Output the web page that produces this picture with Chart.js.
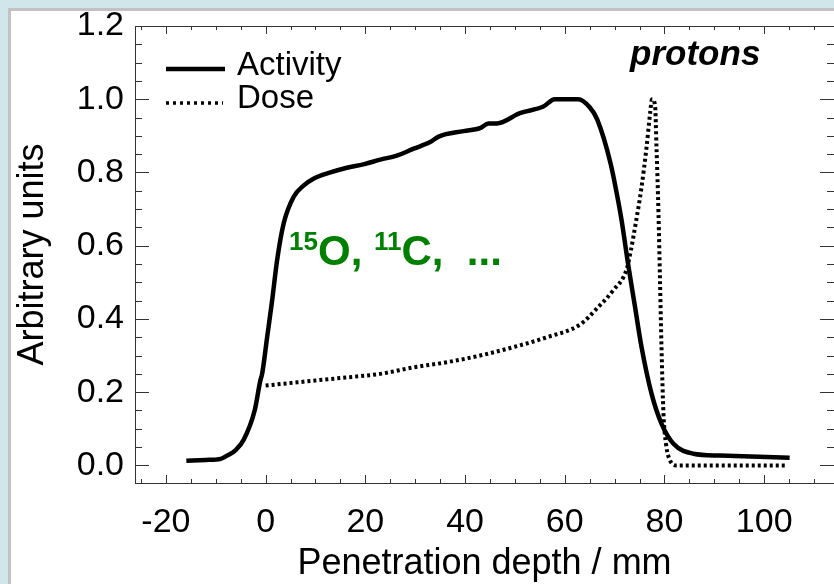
<!DOCTYPE html>
<html>
<head>
<meta charset="utf-8">
<script src="https://cdn.jsdelivr.net/npm/chart.js@4.4.0/dist/chart.umd.min.js"></script>
<style>
  html, body { margin: 0; padding: 0; width: 834px; height: 584px; overflow: hidden; background: #d0e6ea; }
  #panel { position: absolute; left: 8px; top: 8px; width: 900px; height: 700px; background: #fff;
           border-left: 3px solid #c2c2c2; border-top: 3px solid #c2c2c2; }
  #wrap { position: absolute; left: 0; top: 0; width: 846px; height: 584px; }
</style>
</head>
<body>
<div id="panel"></div>
<div id="wrap"><canvas id="grafico" width="846" height="584"></canvas></div>
<script>
// values
const activityX = [-15.9, -12, -9, -7.7, -6, -4.4, -2.2, -1.06, -0.7, 0.3, 1.3, 2.3, 3.6, 5.6, 7.6, 9.6, 13, 16.3, 19.6, 23, 26.3, 29.7, 33, 34.7, 39.7, 43, 44.7, 46.4, 51, 55.7, 58, 62.7, 65, 66.5, 69.2, 70.7, 71.4, 72.7, 74.1, 75.4, 77.4, 79.4, 81.8, 85.8, 91.1, 105.1];
const activityY = [0.013, 0.015, 0.018, 0.027, 0.042, 0.07, 0.15, 0.232, 0.25, 0.35, 0.45, 0.56, 0.66, 0.733, 0.764, 0.783, 0.80, 0.813, 0.822, 0.835, 0.846, 0.865, 0.883, 0.898, 0.913, 0.921, 0.934, 0.934, 0.962, 0.98, 1.0, 1.0, 0.978, 0.945, 0.824, 0.723, 0.669, 0.55, 0.432, 0.323, 0.196, 0.114, 0.059, 0.032, 0.027, 0.021];

const doseX = [0, 10, 16, 23, 29.7, 36.4, 43, 49.7, 56.4, 63.1, 66.4, 69.7, 72.4, 73.3, 74.1, 75.4, 76.4, 77.1, 77.5, 78.1, 78.4, 78.8, 79.1, 79.4, 79.8, 80.3, 81.1, 82.4, 104.7];
const doseY = [0.218, 0.232, 0.24, 0.25, 0.268, 0.282, 0.30, 0.323, 0.35, 0.385, 0.428, 0.478, 0.535, 0.59, 0.651, 0.76, 0.869, 0.96, 1.0, 0.985, 0.869, 0.687, 0.505, 0.323, 0.141, 0.059, 0.014, 0.0, 0.0];

const seriesNames = ['Activity', 'Dose'];
const xTickValues = [-20, 0, 20, 40, 60, 80, 100];
const xTickLabels = ['-20', '0', '20', '40', '60', '80', '100'];
const yTickValues = [0, 0.2, 0.4, 0.6, 0.8, 1.0, 1.2];
const yTickLabels = ['0.0', '0.2', '0.4', '0.6', '0.8', '1.0', '1.2'];

const FONT = '"Liberation Sans", Arial, Helvetica, sans-serif';
const toPoints = (xs, ys) => xs.map((x, i) => ({ x: x, y: ys[i] }));

// frame with inward ticks on all four sides, plus legend and labels
const framePlugin = {
  id: 'frame',
  beforeDatasetsDraw(chart) {
    const { ctx, chartArea: a, scales: { x, y } } = chart;
    ctx.save();
    ctx.strokeStyle = '#333';
    ctx.lineWidth = 1;
    ctx.strokeRect(a.left + 0.5, a.top + 0.5, a.right - a.left, a.bottom - a.top);
    ctx.beginPath();
    for (let v = -25; v <= 110; v += 5) {
      const px = Math.round(x.getPixelForValue(v)) + 0.5;
      const len = v % 20 === 0 ? 8 : 4;
      ctx.moveTo(px, a.bottom); ctx.lineTo(px, a.bottom - len);
      ctx.moveTo(px, a.top); ctx.lineTo(px, a.top + len);
    }
    for (let i = 0; i <= 24; i++) {
      const py = Math.round(y.getPixelForValue(i * 0.05)) + 0.5;
      const len = i % 4 === 0 ? 14 : 7;
      ctx.moveTo(a.left, py); ctx.lineTo(a.left + len, py);
      ctx.moveTo(a.right, py); ctx.lineTo(a.right - len, py);
    }
    ctx.stroke();
    ctx.restore();
  },
  afterDatasetsDraw(chart) {
    const { ctx, chartArea: a, scales: { x, y } } = chart;
    ctx.save();
    // legend
    ctx.strokeStyle = '#000';
    ctx.lineWidth = 4.5;
    ctx.beginPath();
    ctx.moveTo(a.left + 31, 69); ctx.lineTo(a.left + 90, 69);
    ctx.stroke();
    ctx.lineWidth = 3.5;
    ctx.setLineDash([3, 4]);
    ctx.beginPath();
    ctx.moveTo(a.left + 31, 103); ctx.lineTo(a.left + 88, 103);
    ctx.stroke();
    ctx.setLineDash([]);
    ctx.fillStyle = '#000';
    ctx.font = '33px ' + FONT;
    ctx.textBaseline = 'alphabetic';
    ctx.fillText(seriesNames[0], a.left + 102, 75);
    ctx.fillText(seriesNames[1], a.left + 102, 108);

    // protons
    ctx.font = 'italic bold 35px ' + FONT;
    ctx.fillText('protons', x.getPixelForValue(73.1), y.getPixelForValue(1.093));

    // isotopes
    ctx.fillStyle = '#008000';
    let px = x.getPixelForValue(4.7);
    const base = y.getPixelForValue(0.546);
    const parts = [['15', true], ['O, ', false], ['11', true], ['C,  ...', false]];
    parts.forEach(([t, sup]) => {
      ctx.font = 'bold ' + (sup ? 26 : 42) + 'px ' + FONT;
      ctx.fillText(t, px, sup ? base - 15 : base);
      px += ctx.measureText(t).width;
    });
    ctx.restore();
  }
};

const ctx = document.getElementById('grafico').getContext('2d');
new Chart(ctx, {
  type: 'line',
  data: {
    datasets: [
      {
        label: seriesNames[0],
        data: toPoints(activityX, activityY),
        borderColor: '#000',
        borderWidth: 4.5,
        pointRadius: 0,
        cubicInterpolationMode: 'monotone'
      },
      {
        label: seriesNames[1],
        data: toPoints(doseX, doseY),
        borderColor: '#000',
        borderWidth: 4,
        borderDash: [3, 3],
        pointRadius: 0,
        cubicInterpolationMode: 'monotone'
      }
    ]
  },
  options: {
    responsive: false,
    animation: false,
    layout: { padding: { left: 0, right: 12, top: 26, bottom: 0 } },
    plugins: {
      legend: { display: false },
      tooltip: { enabled: false }
    },
    scales: {
      x: {
        type: 'linear',
        min: -26.2,
        max: 114,
        afterBuildTicks: s => { s.ticks = xTickValues.map(v => ({ value: v })); },
        afterFit: s => { s.height = 101; s.paddingLeft = 0; s.paddingRight = 0; },
        grid: { display: false, drawTicks: false },
        border: { display: false },
        ticks: {
          padding: 19,
          color: '#000',
          font: { family: FONT, size: 34 },
          maxRotation: 0,
          autoSkip: false,
          callback: v => xTickLabels[xTickValues.indexOf(v)]
        },
        title: {
          display: true,
          text: 'Penetration depth / mm',
          color: '#000',
          font: { family: FONT, size: 36, lineHeight: 1 },
          padding: { top: 0, bottom: 2 }
        }
      },
      y: {
        type: 'linear',
        min: -0.048,
        max: 1.2,
        afterBuildTicks: s => { s.ticks = yTickValues.map(v => ({ value: v })); },
        afterFit: s => { s.width = 135; s.paddingTop = 0; s.paddingBottom = 0; },
        grid: { display: false, drawTicks: false },
        border: { display: false },
        ticks: {
          padding: 11,
          color: '#000',
          font: { family: FONT, size: 34 },
          autoSkip: false,
          callback: v => yTickLabels[yTickValues.indexOf(v)]
        },
        title: {
          display: true,
          text: 'Arbitrary units',
          color: '#000',
          font: { family: FONT, size: 36, lineHeight: 1 },
          padding: { top: 15, bottom: 0 }
        }
      }
    }
  },
  plugins: [framePlugin]
});
</script>
</body>
</html>
